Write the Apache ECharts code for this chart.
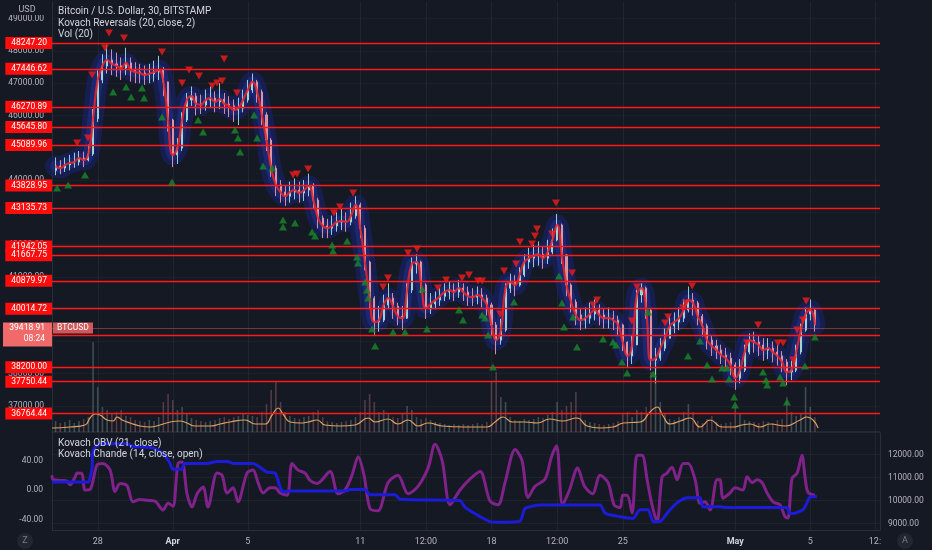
<!DOCTYPE html>
<html><head><meta charset="utf-8">
<script src="https://cdn.jsdelivr.net/npm/echarts@6/dist/echarts.min.js"></script>
<style>html,body{margin:0;padding:0;background:#151924;}#c{width:932px;height:550px;}</style>
</head><body><div id="c"></div>
<script>
// ---------- DATA ----------
// time axis: days since 25 Mar 2022 00:00 ; candles every 6h starting 25 Mar 18:00
const candleStartDay = 0.75;
const candleStepDay = 0.25;
const firstOpen = 44300;
const priceClose = [44435,44373,44466,44528,44560,44683,44620,44807,45900,47100,
47535,47720,47600,47540,47470,47630,47410,47350,47320,47260,
47290,47350,47410,47040,45860,44780,44990,45860,46480,46600,
46360,46330,46480,46540,46420,46510,46360,46300,46170,46230,
46480,46790,47040,46730,46020,45240,44370,43850,43630,43500,
43630,43690,43600,43690,43820,43380,42820,42580,42510,42580,
42700,42730,42700,42890,43230,42510,41460,40340,39600,39660,
40130,40340,40090,39780,39720,40590,41400,41460,40750,40030,
40160,40280,40400,40530,40590,40530,40650,40530,40400,40370,
40440,40340,40130,39510,39040,39350,40650,40840,40750,41060,
41460,41580,41650,41700,41580,41770,42140,42610,41680,40750,
40220,39820,39660,39720,39850,39970,39820,39720,39720,39660,
39510,38980,38550,38890,40440,40650,39970,38420,38480,38790,
39100,39480,39600,39720,39970,40280,40190,39780,39480,39040,
38860,38730,38580,38480,38270,37860,38110,38670,39040,38980,
38890,38730,38790,38670,38550,38360,38050,38110,38670,39350,
39850,39970,39520];
const priceHigh = [44700,44620,44700,44780,44850,44900,44880,45100,46200,47400,
47900,48200,48050,47950,47800,48100,47800,47650,47600,47550,
47600,47700,47850,47500,47050,45900,45300,46100,46700,46900,
46700,46650,46800,46900,46750,47000,46700,46600,46500,46550,
46800,47100,47300,47100,46800,46100,45300,44450,44000,43850,
43950,44050,43950,44000,44200,43900,43450,42900,42800,42900,
43000,43100,43000,43300,43500,43300,42600,41500,40400,40100,
40450,40800,40500,40200,40100,40800,41600,41700,41500,40800,
40500,40550,40650,40800,40850,40800,40900,40800,40700,40650,
40700,40650,40450,40200,39600,39700,40800,41100,41050,41300,
41700,41900,42000,42100,41950,42150,42500,42950,42650,41700,
40800,40300,40000,40050,40200,40300,40150,40000,40050,39950,
39800,39550,39000,39200,40600,40800,40700,40000,38800,39100,
39400,39800,39900,40050,40300,40700,40500,40250,39850,39550,
39200,39050,38900,38800,38650,38350,38450,38900,39250,39300,
39200,39100,39100,39000,38900,38700,38450,38400,38900,39550,
40050,40300,40000];
const priceLow = [44150,44180,44250,44300,44380,44450,44400,44580,44750,45800,
47000,47300,47250,47200,47100,47250,47050,47000,47000,46950,
47000,47050,47100,46600,45500,44400,44500,44900,45800,46300,
46000,46050,46150,46250,46100,46200,46050,45950,45800,45700,
46100,46400,46700,46400,45700,44900,44100,43500,43300,43200,
43300,43400,43300,43350,43500,43100,42500,42200,42200,42300,
42400,42450,42400,42600,42800,42200,41200,40000,39200,39300,
39600,40000,39700,39500,39350,39700,40500,41100,40500,39700,
39850,40000,40100,40250,40300,40250,40350,40250,40100,40100,
40150,40050,39800,39200,38600,38900,39300,40500,40400,40700,
41000,41250,41300,41350,41250,41400,41700,42100,41400,40400,
39900,39500,39350,39400,39550,39650,39500,39400,39400,39350,
39200,38700,38200,38300,38900,40200,39700,38100,37700,38400,
38700,39100,39250,39350,39600,39900,39800,39500,39150,38750,
38550,38450,38300,38150,37950,37500,37700,38050,38600,38650,
38550,38400,38450,38350,38250,38050,37650,37800,38050,38600,
39300,39650,39300];
// volume per 6h bucket (BTC) and its moving average [day, BTC]
const volumeBars = [110,90,100,120,90,110,130,150,900,450,
250,220,180,200,220,160,150,120,110,100,
120,110,150,300,380,320,220,250,180,140,
120,110,100,110,120,140,150,130,150,160,
180,170,160,150,200,280,420,500,300,200,
160,140,130,150,160,200,220,150,110,100,
90,100,110,120,150,200,320,380,300,200,
220,180,150,140,180,260,220,150,130,140,
120,100,90,80,70,80,70,80,70,80,
90,80,100,500,600,350,300,150,120,110,
130,120,130,150,140,170,200,300,220,260,
300,400,200,120,100,90,80,70,80,90,
110,180,200,150,220,200,250,600,700,300,
180,130,120,150,200,280,200,110,90,130,
160,100,80,90,100,250,180,120,110,100,
90,110,100,90,120,130,350,200,160,180,
450,250,150];
const volumeMA = [[0.56,40],[1.52,50],[2.32,70],[2.59,140],[2.86,180],[3.12,170],[3.5,120],[3.82,110],[4.03,150],[4.3,120],
[4.72,90],[5.26,60],[5.79,50],[6.32,70],[6.86,100],[7.39,110],[7.76,90],[8.19,60],[8.99,60],[9.52,80],
[10.06,100],[10.86,120],[11.4,80],[11.92,80],[12.3,170],[12.62,240],[12.88,180],[13.26,100],[13.79,90],[14.22,100],
[14.7,120],[15.12,70],[15.92,60],[16.72,70],[17.42,140],[17.79,100],[18.48,130],[19.01,80],[19.55,120],[20.08,60],
[20.62,90],[21.36,60],[22.59,50],[23.76,50],[24.19,100],[24.62,150],[25.1,100],[25.79,100],[26.43,90],[27.12,130],
[27.76,110],[28.56,140],[29.1,60],[29.79,40],[30.48,50],[31.02,90],[31.92,100],[32.46,200],[32.83,250],[33.15,160],
[33.52,80],[34.06,110],[34.59,140],[35.12,50],[35.66,120],[36.3,50],[36.88,50],[37.36,70],[37.79,80],[38.32,50],
[38.86,80],[39.66,60],[40.46,120],[40.83,150],[41.15,120],[41.42,40]];
// reversal markers [day, price]
const reversalDown = [[1.90,45148],[2.48,45303],[2.70,47256],[3.39,48093],[3.60,48558],[4.40,48403],[6.43,47969],
[7.50,47008],[7.87,47411],[8.40,47225],[9.10,46915],[9.36,47008],[9.63,47070],[9.74,47752],[10.43,46698],
[13.42,44156],[13.63,44187],[14.22,44342],[15.60,42978],[15.92,43164],[16.62,43598],[18.22,40684],[18.48,40963],
[19.55,41738],[20.03,41862],[21.15,40653],[21.58,40901],[22.43,40963],[22.80,41056],[23.28,40870],[23.50,40870],
[24.46,39847],[24.67,41180],[25.31,41397],[25.52,42079],[26.16,42017],[26.32,42265],[26.43,42482],[27.23,42327],
[27.44,43288],[28.30,41118],[29.42,40126],[29.63,40281],[31.49,39630],[31.76,40684],[33.26,39568],[33.42,39754],
[34.22,40033],[34.38,40188],[34.70,40715],[37.63,38948],[38.22,39506],[39.28,38948],[39.55,38948],[40.08,38421],
[40.30,39351],[40.62,39661],[40.78,40250]];
const reversalUp = [[0.83,43753],[1.42,43846],[2.32,44156],[3.82,46729],[4.51,46884],[4.78,46574],[5.36,46853],
[5.47,46543],[6.43,45954],[6.96,43939],[8.35,45861],[8.62,45489],[10.32,45551],[10.48,45303],[10.59,44869],
[11.34,46016],[11.50,45303],[11.82,44435],[12.30,44373],[12.88,42761],[12.88,42544],[13.52,42668],[14.43,42389],
[14.59,42265],[15.50,41986],[15.55,41800],[16.30,42110],[16.83,41614],[16.88,41428],[17.26,40839],[17.36,40591],
[17.42,40343],[17.63,39382],[17.79,38855],[18.75,39289],[19.39,39289],[20.30,40622],[20.56,39382],[22.27,39971],
[22.48,39661],[23.50,39816],[23.66,39723],[23.82,39196],[24.08,38204],[25.20,40219],[27.60,41025],[27.76,40188],
[27.87,39444],[28.35,39754],[28.56,38824],[29.95,39072],[30.48,38979],[30.64,38886],[30.96,38359],[31.23,38018],
[32.35,39909],[32.62,37987],[34.48,38545],[35.12,39010],[35.50,38266],[35.76,37832],[36.30,38173],[36.56,38173],
[36.67,37832],[36.94,37274],[36.99,37026],[38.48,38049],[38.64,37801],[38.70,37646],[39.39,37894],[39.55,37708],
[39.76,37119],[40.72,38235],[41.25,39134]];
// Kovach Chande (left scale) and Kovach OBV (right scale) [day, value]
const chandeValues = [[0.56,20],[0.62,14],[1.0,13],[1.36,12],[1.52,7],[1.8,18],[1.9,23],[2.16,22],[2.32,0],[2.6,1],
[2.96,34],[3.28,36],[3.66,27],[3.92,-2],[4.19,9],[4.56,6],[4.88,-16],[5.26,-13],[5.63,-14],[6.05,-15],
[6.48,-27],[6.75,-18],[7.01,-22],[7.28,36],[7.5,38],[7.76,-5],[8.03,-23],[8.3,-5],[8.62,4],[8.88,-23],
[9.36,23],[9.63,20],[9.9,-4],[10.22,3],[10.48,-16],[10.96,23],[11.28,27],[11.55,10],[11.82,-4],[12.19,3],
[12.46,3],[12.72,-4],[13.1,-7],[13.36,36],[13.68,27],[14.06,23],[14.32,13],[14.7,9],[15.39,25],[15.81,-5],
[16.19,0],[16.56,20],[16.89,45],[17.2,20],[17.52,-25],[17.95,-28],[18.48,10],[19.01,20],[19.55,-5],[20.08,5],
[20.62,30],[20.99,62],[21.37,40],[21.79,-20],[22.32,0],[22.86,15],[23.39,25],[23.92,-15],[24.35,-20],[24.72,10],
[25.26,55],[25.63,40],[25.95,-10],[26.32,5],[26.86,15],[27.2,45],[27.47,60],[27.79,-20],[28.16,0],[28.59,30],
[28.96,5],[29.39,-5],[29.79,20],[30.22,10],[30.54,-20],[30.86,-24],[31.0,-7],[31.23,-7],[31.5,-31],[31.76,47],
[32.03,47],[32.3,14],[32.56,-20],[32.83,-43],[33.1,18],[33.36,23],[33.63,31],[33.9,14],[34.22,36],[34.49,36],
[34.86,14],[35.12,-18],[35.39,-16],[35.66,-27],[36.03,14],[36.19,14],[36.35,-11],[36.72,-4],[36.99,3],[37.41,0],
[37.63,18],[37.9,10],[38.17,14],[38.43,10],[38.7,-4],[39.02,-16],[39.39,-20],[39.65,-36],[39.81,-38],[40.03,16],
[40.3,23],[40.56,47],[40.72,18],[40.88,-3],[41.25,-7]];
const obvValues = [[0.56,10800],[2.5,10800],[2.59,11000],[2.7,11440],[2.75,12170],[3.12,12470],[4.56,12470],[4.88,12350],
[5.9,12300],[6.48,12040],[6.86,11610],[7.0,11360],[7.5,11360],[7.6,11610],[8.8,11610],[9.36,11700],[9.9,11700],
[10.22,11610],[11.28,11610],[12.03,11230],[12.46,11190],[12.72,10590],[12.88,10370],[13.25,10410],[16.19,10410],
[16.46,10480],[17.26,10480],[17.52,10250],[18.86,10250],[19.12,10050],[22.32,10000],[22.59,9700],[23.39,9300],
[23.9,9080],[24.46,9050],[25.52,9100],[25.79,9650],[26.59,9800],[29.79,9800],[30.06,9450],[30.86,9290],[31.55,9220],
[31.92,9600],[32.35,9600],[32.62,9090],[32.99,9090],[33.42,9500],[33.9,9900],[34.43,10120],[35.12,10120],[35.28,9730],
[36.19,9730],[36.56,9690],[39.76,9690],[39.92,9430],[40.19,9450],[40.62,9600],[40.83,9900],[40.99,10160],[41.36,10160]];
// labelled support / resistance levels
const levelLines = [48247.20,47446.62,46270.89,45645.80,45089.96,43828.95,43135.73,41942.05,41667.75,40879.97,40014.72,39205.02,38200.00,37750.44,36764.44];
const lastPrice = 39418.91;
const lastPriceTime = '08:24';
// tick labels
const priceTicks = [37000,38000,39000,40000,41000,42000,43000,44000,45000,46000,47000,48000,49000];
const chandeTicks = [-40,0,40];
const obvTicks = [9000,10000,11000,12000];
const timeTickDays = [3,7,11,17,20.5,24,27.5,31,37,41,44.45];
const timeTickLabels = ['28','Apr','5','11','12:00','18','12:00','25','May','5','12:'];

// ---------- CHART ----------
const FONT = 'Roboto, "Noto Sans", sans-serif';
const dayOf = i => candleStartDay + i * candleStepDay;
const openOf = i => i === 0 ? firstOpen : priceClose[i - 1];
const candleData = priceClose.map((c, i) => [dayOf(i), openOf(i), c, priceLow[i], priceHigh[i]]);
const closeLine = priceClose.map((c, i) => [dayOf(i), c]);
const volData = volumeBars.map((v, i) => ({
  value: [dayOf(i), v],
  itemStyle: { color: priceClose[i] >= openOf(i) ? 'rgba(120,150,150,0.42)' : 'rgba(165,110,115,0.42)' }
}));

const chart = echarts.init(document.getElementById('c'));
const gridLine = 'rgba(42,46,57,0.55)';
const axisText = '#b2b5be';
const xBase = { type: 'value', min: 0.56, max: 44.72 };

chart.setOption({
  animation: false,
  backgroundColor: '#151924',
  textStyle: { fontFamily: FONT },
  grid: [
    { left: 52, right: 52, top: 2, height: 430 },
    { left: 52, right: 52, top: 332, height: 100 },
    { left: 52, right: 52, top: 433, height: 97 }
  ],
  xAxis: [
    Object.assign({}, xBase, { gridIndex: 0,
      axisLine: { show: true, onZero: false, lineStyle: { color: '#2a2e39', width: 1.5 } },
      axisTick: { show: false, customValues: timeTickDays }, axisLabel: { show: false },
      splitLine: { show: true, lineStyle: { color: gridLine } } }),
    Object.assign({}, xBase, { gridIndex: 1, show: false }),
    Object.assign({}, xBase, { gridIndex: 2,
      axisLine: { show: true, onZero: false, lineStyle: { color: '#2a2e39' } },
      axisTick: { show: false, customValues: timeTickDays },
      splitLine: { show: true, lineStyle: { color: gridLine } },
      axisLabel: { show: true, customValues: timeTickDays, color: axisText, fontSize: 9, margin: 7,
        formatter: v => { const s = timeTickLabels[timeTickDays.indexOf(v)]; return (s === 'Apr' || s === 'May') ? '{b|' + s + '}' : s; },
        rich: { b: { fontWeight: 'bold', color: '#d1d4dc', fontSize: 9 } } } })
  ],
  yAxis: [
    { type: 'value', gridIndex: 0, position: 'left', min: 36193, max: 49518,
      axisLine: { show: true, lineStyle: { color: '#2a2e39' } },
      axisTick: { show: false, customValues: priceTicks },
      axisLabel: { customValues: priceTicks, color: axisText, fontSize: 8.5, margin: 8, formatter: v => v.toFixed(2) },
      splitLine: { show: true, lineStyle: { color: 'rgba(42,46,57,0.3)' } } },
    { type: 'value', gridIndex: 1, min: 0, max: 1000, show: false },
    { type: 'value', gridIndex: 2, position: 'left', min: -54.2, max: 77.3,
      axisLine: { show: true, lineStyle: { color: '#2a2e39' } },
      axisTick: { show: false, customValues: chandeTicks },
      axisLabel: { customValues: chandeTicks, color: axisText, fontSize: 8.5, margin: 9, formatter: v => v.toFixed(2) },
      splitLine: { show: false } },
    { type: 'value', gridIndex: 2, position: 'right', min: 8717, max: 12935,
      axisLine: { show: true, lineStyle: { color: '#2a2e39' } },
      axisTick: { show: false, customValues: obvTicks },
      axisLabel: { customValues: obvTicks, color: axisText, fontSize: 8.5, margin: 8, formatter: v => v.toFixed(2) },
      splitLine: { show: true, lineStyle: { color: 'rgba(42,46,57,0.45)' } } }
  ],
  series: [
    { name: 'bandOuter', type: 'line', xAxisIndex: 0, yAxisIndex: 0, data: closeLine, smooth: 0.4, symbol: 'none',
      lineStyle: { width: 21, color: 'rgba(24,34,115,0.55)', cap: 'round', join: 'round' }, z: 1 },
    { name: 'bandInner', type: 'line', xAxisIndex: 0, yAxisIndex: 0, data: closeLine, smooth: 0.4, symbol: 'none',
      lineStyle: { width: 11, color: 'rgba(40,58,180,0.35)', cap: 'round', join: 'round' }, z: 1 },
    { name: 'volume', type: 'bar', xAxisIndex: 1, yAxisIndex: 1, data: volData, barWidth: 1.6, z: 2 },
    { name: 'volMA', type: 'line', xAxisIndex: 1, yAxisIndex: 1, data: volumeMA, smooth: 0.5, symbol: 'none',
      lineStyle: { width: 1.2, color: '#e0a060' }, z: 3 },
    { name: 'price', type: 'candlestick', xAxisIndex: 0, yAxisIndex: 0, data: candleData, barWidth: 1.6,
      encode: { x: 0, y: [1, 2, 3, 4] },
      itemStyle: { color: 'rgba(165,222,214,0.9)', color0: 'rgba(232,155,165,0.9)',
        borderColor: 'rgba(165,222,214,0.9)', borderColor0: 'rgba(232,155,165,0.9)', borderWidth: 1 }, z: 3 },
    { name: 'reversalMA', type: 'line', xAxisIndex: 0, yAxisIndex: 0, data: closeLine, smooth: 0.5, symbol: 'none',
      lineStyle: { width: 2.2, color: 'rgba(228,38,45,0.88)' }, z: 4,
      markLine: { symbol: 'none', silent: true, animation: false,
        lineStyle: { color: '#ff1a1a', width: 1.4, type: 'solid' },
        label: { position: 'start', distance: 0, formatter: p => p.value.toFixed(2), color: '#ffffff',
          backgroundColor: '#ff0d0d', padding: [2, 5, 1, 6], fontSize: 8.5, fontFamily: FONT },
        data: levelLines.map(v => ({ yAxis: v })).concat([{ yAxis: lastPrice,
          lineStyle: { color: 'rgba(242,90,90,0.45)', width: 1 }, label: { show: false } }]) } },
    { name: 'revDown', type: 'scatter', xAxisIndex: 0, yAxisIndex: 0, data: reversalDown, symbol: 'triangle',
      symbolRotate: 180, symbolSize: [8, 7], itemStyle: { color: '#f01c1c' }, z: 6 },
    { name: 'revUp', type: 'scatter', xAxisIndex: 0, yAxisIndex: 0, data: reversalUp, symbol: 'triangle',
      symbolSize: [8, 7], itemStyle: { color: '#16882a' }, z: 6 },
    { name: 'chande', type: 'line', xAxisIndex: 2, yAxisIndex: 2, data: chandeValues, smooth: 0.3, symbol: 'none',
      lineStyle: { width: 3, color: 'rgba(140,36,150,0.9)' }, z: 3 },
    { name: 'obv', type: 'line', xAxisIndex: 2, yAxisIndex: 3, data: obvValues, smooth: 0.2, symbol: 'none',
      lineStyle: { width: 3, color: '#1c1cd8' }, z: 4 }
  ]
});

const yLast = chart.convertToPixel({ yAxisIndex: 0 }, lastPrice);
const legendStyle = { fill: '#d1d4dc', font: '10px ' + FONT };
chart.setOption({
  graphic: [
    { type: 'rect', shape: { x: 0, y: 0, width: 51, height: 15 }, style: { fill: '#151924' }, z: 100 },
    { type: 'text', x: 27, y: 5, style: { text: 'USD', fill: axisText, font: '9px ' + FONT, align: 'center' }, z: 101 },
    { type: 'text', x: 58, y: 6, style: Object.assign({ text: 'Bitcoin / U.S. Dollar, 30, BITSTAMP' }, legendStyle), z: 101 },
    { type: 'text', x: 58, y: 18, style: Object.assign({ text: 'Kovach Reversals (20, close, 2)' }, legendStyle), z: 101 },
    { type: 'text', x: 58, y: 29, style: Object.assign({ text: 'Vol (20)' }, legendStyle), z: 101 },
    { type: 'text', x: 58, y: 438, style: Object.assign({ text: 'Kovach OBV (21, close)' }, legendStyle), z: 101 },
    { type: 'text', x: 58, y: 449, style: Object.assign({ text: 'Kovach Chande (14, close, open)' }, legendStyle), z: 101 },
    { type: 'rect', shape: { x: 3, y: yLast - 5.5, width: 49, height: 24 }, style: { fill: '#f06a6a' }, z: 102 },
    { type: 'text', x: 45, y: yLast - 4.5, style: { text: lastPrice.toFixed(2), fill: '#ffffff', font: '8.5px ' + FONT, align: 'right' }, z: 103 },
    { type: 'text', x: 45, y: yLast + 6.5, style: { text: lastPriceTime, fill: '#ffffff', font: '8.5px ' + FONT, align: 'right' }, z: 103 },
    { type: 'rect', shape: { x: 53, y: yLast - 5.5, width: 40, height: 11 }, style: { fill: 'rgba(240,100,100,0.85)' }, z: 102 },
    { type: 'text', x: 73, y: yLast - 4.5, style: { text: 'BTCUSD', fill: '#ffffff', font: '8.5px ' + FONT, align: 'center' }, z: 103 },
    { type: 'circle', shape: { cx: 25, cy: 541, r: 8 }, style: { fill: '#22262f' }, z: 100 },
    { type: 'text', x: 25, y: 536, style: { text: 'Z', fill: '#787b86', font: '9px ' + FONT, align: 'center' }, z: 101 },
    { type: 'circle', shape: { cx: 905, cy: 541, r: 8 }, style: { fill: '#22262f' }, z: 100 },
    { type: 'text', x: 905, y: 536, style: { text: 'A', fill: '#787b86', font: '9px ' + FONT, align: 'center' }, z: 101 }
  ]
});
</script></body></html>
